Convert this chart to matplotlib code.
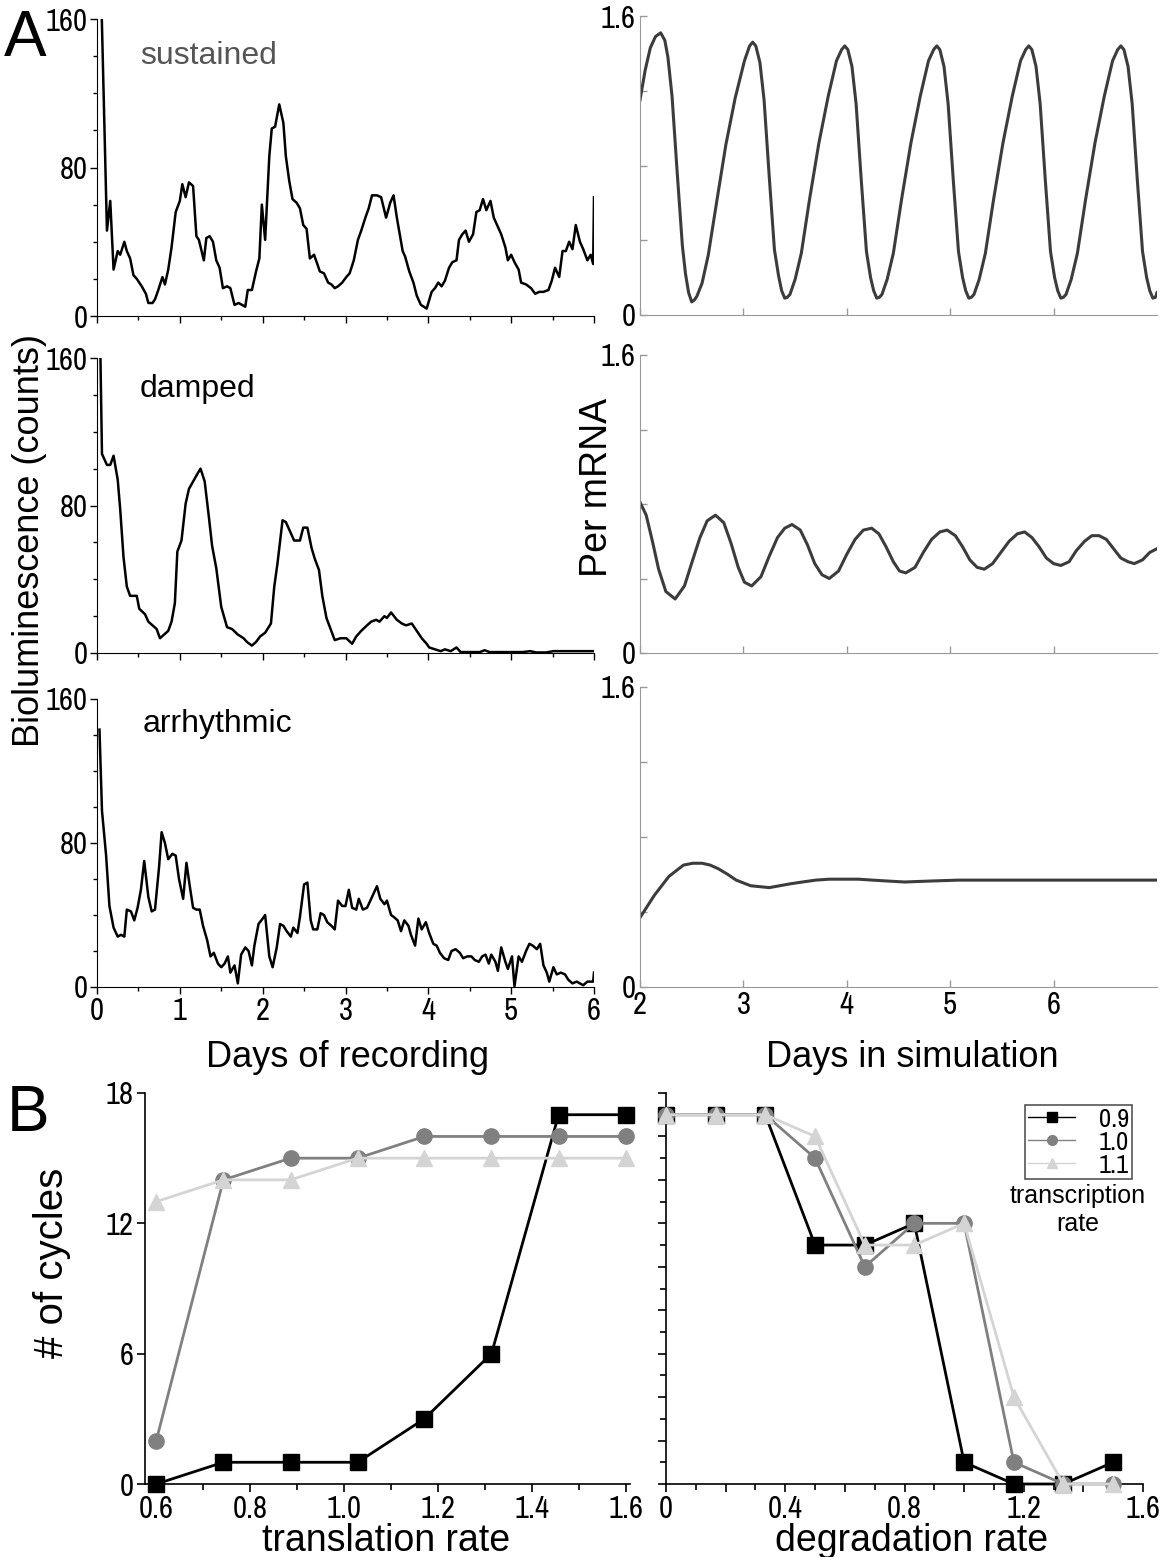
import numpy as np
import matplotlib
matplotlib.use('Agg')
import matplotlib.pyplot as plt
from matplotlib import font_manager
from matplotlib.lines import Line2D

# narrow face for tick labels if one is installed, else the Arial-like face
wide = 'Liberation Sans'
names = sorted(set(f.name for f in font_manager.fontManager.ttflist))
narrow = None
for key in ['Liberation Sans Narrow', 'Narrow', 'Condensed']:
    hits = [n for n in names if key in n]
    if hits:
        narrow = hits[0]
        break
if narrow is None:
    narrow = wide
    tick_a, tick_b, leg_fs = 17, 17.5, 15
else:
    tick_a, tick_b, leg_fs = 22, 22, 19
plt.rcParams['font.family'] = [narrow, 'DejaVu Sans']

W, H = 1160, 1557

# ---- A: bioluminescence recordings (days, counts)
sus_days = [0.05, 0.12, 0.16, 0.20, 0.25, 0.28, 0.33, 0.36, 0.40, 0.44,
            0.48, 0.54, 0.59, 0.62, 0.67, 0.70, 0.74, 0.79, 0.82, 0.86,
            0.90, 0.95, 1.00, 1.03, 1.07, 1.11, 1.16, 1.20, 1.23, 1.29,
            1.32, 1.36, 1.40, 1.44, 1.48, 1.52, 1.57, 1.61, 1.66, 1.71,
            1.75, 1.79, 1.82, 1.87, 1.92, 1.96, 1.99, 2.03, 2.05, 2.08,
            2.11, 2.15, 2.20, 2.25, 2.28, 2.32, 2.36, 2.41, 2.45, 2.49,
            2.53, 2.57, 2.62, 2.66, 2.69, 2.74, 2.79, 2.83, 2.87, 2.91,
            2.96, 3.01, 3.05, 3.10, 3.15, 3.19, 3.24, 3.28, 3.32, 3.38,
            3.43, 3.49, 3.54, 3.58, 3.62, 3.69, 3.72, 3.77, 3.82, 3.86,
            3.91, 3.98, 4.04, 4.08, 4.12, 4.16, 4.20, 4.25, 4.29, 4.34,
            4.37, 4.41, 4.45, 4.49, 4.54, 4.58, 4.62, 4.66, 4.70, 4.75,
            4.79, 4.84, 4.88, 4.93, 4.96, 5.00, 5.04, 5.09, 5.12, 5.18,
            5.24, 5.29, 5.34, 5.39, 5.45, 5.49, 5.53, 5.58, 5.62, 5.66,
            5.70, 5.74, 5.78, 5.83, 5.87, 5.92, 5.96, 5.99, 6.00]
sus_counts = [175, 46, 62, 25, 35, 33, 40, 35, 31, 22,
              20, 16, 12, 7, 7, 9, 14, 21, 17, 25,
              37, 56, 62, 71, 64, 72, 70, 43, 41, 30,
              42, 43, 40, 30, 26, 15, 16, 15, 6, 7,
              6, 5, 14, 14, 24, 31, 60, 41, 59, 86,
              101, 102, 114, 104, 86, 73, 63, 61, 58, 49,
              47, 31, 33, 28, 24, 23, 18, 17, 15, 16,
              18, 21, 23, 30, 41, 46, 53, 58, 65, 65,
              64, 53, 61, 65, 53, 35, 32, 24, 18, 11,
              6, 4, 13, 15, 18, 16, 19, 26, 29, 30,
              41, 44, 46, 40, 44, 56, 57, 63, 57, 62,
              53, 48, 44, 37, 30, 33, 29, 25, 18, 17,
              15, 12, 13, 13, 14, 19, 26, 21, 35, 35,
              40, 36, 49, 40, 36, 30, 33, 28, 64]

dmp_days = [0.04, 0.06, 0.12, 0.16, 0.20, 0.25, 0.28, 0.32, 0.36, 0.40,
            0.48, 0.51, 0.58, 0.62, 0.67, 0.72, 0.76, 0.81, 0.86, 0.90,
            0.94, 0.97, 1.02, 1.07, 1.11, 1.16, 1.21, 1.25, 1.30, 1.35,
            1.39, 1.44, 1.50, 1.57, 1.63, 1.70, 1.77, 1.81, 1.87, 1.92,
            1.97, 2.03, 2.10, 2.14, 2.18, 2.24, 2.28, 2.33, 2.38, 2.45,
            2.49, 2.54, 2.59, 2.63, 2.68, 2.72, 2.77, 2.82, 2.87, 2.94,
            3.01, 3.08, 3.13, 3.19, 3.26, 3.31, 3.37, 3.41, 3.47, 3.50,
            3.55, 3.62, 3.68, 3.73, 3.80, 3.86, 3.92, 3.98, 4.01, 4.08,
            4.15, 4.20, 4.27, 4.34, 4.39, 4.48, 4.62, 4.68, 4.74, 4.86,
            5.00, 5.14, 5.23, 5.30, 5.42, 5.51, 5.65, 5.79, 6.00]
dmp_counts = [165, 108, 102, 102, 107, 94, 78, 52, 36, 31,
              31, 24, 21, 17, 15, 13, 8, 10, 12, 17,
              27, 55, 61, 81, 89, 93, 97, 100, 93, 74,
              58, 46, 25, 14, 13, 10, 8, 6, 4, 6,
              9, 11, 16, 36, 49, 72, 71, 66, 61, 61,
              68, 68, 57, 51, 45, 31, 19, 13, 7, 8,
              8, 5, 9, 12, 15, 17, 18, 17, 20, 19,
              22, 18, 16, 15, 16, 12, 8, 5, 3, 2,
              1, 2, 1, 3, 0.5, 0.5, 0.5, 1.5, 0.5, 0.5,
              0.5, 0.5, 1, 0.3, 0.3, 1, 1, 1, 1]

arr_days = [0.03, 0.06, 0.11, 0.15, 0.20, 0.25, 0.29, 0.33, 0.36, 0.41,
            0.45, 0.49, 0.53, 0.57, 0.62, 0.66, 0.70, 0.75, 0.78, 0.82,
            0.86, 0.91, 0.95, 0.99, 1.04, 1.08, 1.12, 1.16, 1.20, 1.24,
            1.28, 1.33, 1.37, 1.41, 1.46, 1.50, 1.54, 1.58, 1.61, 1.66,
            1.70, 1.74, 1.79, 1.83, 1.87, 1.90, 1.95, 2.00, 2.03, 2.08,
            2.12, 2.17, 2.21, 2.25, 2.29, 2.34, 2.37, 2.42, 2.45, 2.50,
            2.54, 2.58, 2.61, 2.66, 2.70, 2.74, 2.78, 2.83, 2.87, 2.91,
            2.96, 3.00, 3.04, 3.08, 3.13, 3.16, 3.21, 3.26, 3.30, 3.34,
            3.38, 3.42, 3.47, 3.50, 3.55, 3.58, 3.63, 3.67, 3.71, 3.76,
            3.79, 3.84, 3.88, 3.92, 3.97, 4.01, 4.06, 4.10, 4.14, 4.19,
            4.24, 4.28, 4.33, 4.38, 4.42, 4.47, 4.52, 4.56, 4.61, 4.65,
            4.69, 4.73, 4.76, 4.81, 4.84, 4.88, 4.93, 4.96, 5.01, 5.04,
            5.09, 5.13, 5.18, 5.22, 5.26, 5.31, 5.35, 5.39, 5.43, 5.46,
            5.51, 5.55, 5.60, 5.65, 5.69, 5.74, 5.79, 5.83, 5.87, 5.92,
            5.99, 6.00]
arr_counts = [143, 98, 73, 45, 33, 28, 29, 28, 43, 42,
              37, 44, 54, 70, 50, 42, 43, 67, 86, 80,
              71, 74, 73, 60, 49, 69, 56, 44, 43, 43,
              34, 26, 17, 19, 13, 11, 13, 17, 8, 12,
              2, 18, 22, 20, 12, 23, 35, 38, 40, 17,
              11, 22, 35, 34, 31, 28, 33, 30, 39, 57,
              58, 37, 32, 32, 41, 40, 36, 34, 32, 48,
              45, 45, 54, 44, 43, 49, 43, 44, 48, 52,
              56, 49, 46, 48, 40, 39, 37, 31, 37, 34,
              29, 23, 38, 32, 36, 30, 24, 23, 19, 16,
              15, 20, 21, 19, 16, 17, 17, 15, 14, 17,
              18, 13, 18, 14, 9, 22, 14, 10, 17, 0.4,
              17, 14, 20, 24, 23, 21, 24, 12, 8, 3,
              11, 7, 8, 7, 4, 2, 3, 2, 1, 3,
              3, 8]

# ---- A: simulated Per mRNA (days, level)
sim_sus_days = [2.00, 2.05, 2.10, 2.15, 2.20, 2.24, 2.27, 2.31, 2.36, 2.41, 2.44, 2.47, 2.50,
                2.525, 2.55, 2.60, 2.66, 2.74, 2.83, 2.92, 3.01, 3.06, 3.09, 3.12, 3.16, 3.20, 3.25, 3.30, 3.34, 3.37, 3.40,
                3.425, 3.45, 3.50, 3.56, 3.64, 3.73, 3.82, 3.90, 3.95, 3.98, 4.01, 4.05, 4.09, 4.14, 4.19, 4.23, 4.26, 4.29,
                4.315, 4.34, 4.39, 4.45, 4.53, 4.62, 4.71, 4.79, 4.84, 4.87, 4.90, 4.94, 4.98, 5.03, 5.08, 5.12, 5.15, 5.18,
                5.205, 5.23, 5.28, 5.34, 5.42, 5.51, 5.60, 5.68, 5.73, 5.76, 5.79, 5.83, 5.87, 5.92, 5.97, 6.01, 6.04, 6.07,
                6.095, 6.12, 6.17, 6.23, 6.31, 6.40, 6.49, 6.57, 6.62, 6.65, 6.68, 6.72, 6.76, 6.81, 6.86, 6.90, 6.93, 6.96,
                6.985, 7.00]
sim_sus_mrna = [1.15, 1.31, 1.43, 1.49, 1.51, 1.47, 1.38, 1.17, 0.76, 0.37, 0.22, 0.12, 0.07,
                0.08, 0.10, 0.17, 0.32, 0.60, 0.91, 1.16, 1.36, 1.44, 1.46, 1.44, 1.35, 1.15, 0.74, 0.35, 0.21, 0.13, 0.09,
                0.095, 0.11, 0.19, 0.33, 0.62, 0.92, 1.17, 1.36, 1.42, 1.44, 1.42, 1.33, 1.13, 0.72, 0.34, 0.20, 0.13, 0.09,
                0.095, 0.11, 0.19, 0.33, 0.62, 0.92, 1.17, 1.36, 1.42, 1.44, 1.42, 1.33, 1.13, 0.72, 0.34, 0.20, 0.13, 0.09,
                0.095, 0.11, 0.19, 0.33, 0.62, 0.92, 1.17, 1.36, 1.42, 1.44, 1.42, 1.33, 1.13, 0.72, 0.34, 0.20, 0.13, 0.09,
                0.095, 0.11, 0.19, 0.33, 0.62, 0.92, 1.17, 1.36, 1.42, 1.44, 1.42, 1.33, 1.13, 0.72, 0.34, 0.20, 0.13, 0.09,
                0.095, 0.12]

sim_dmp_days = [2.00, 2.06, 2.12, 2.18, 2.25, 2.34, 2.43, 2.51, 2.58, 2.65, 2.73, 2.81, 2.88,
                2.95, 3.01, 3.08, 3.17, 3.25, 3.33, 3.40, 3.47, 3.55, 3.62, 3.69, 3.76, 3.83,
                3.92, 4.00, 4.08, 4.16, 4.24, 4.31, 4.38, 4.45, 4.51, 4.57, 4.66, 4.74, 4.82,
                4.90, 4.97, 5.05, 5.12, 5.19, 5.26, 5.33, 5.41, 5.49, 5.57, 5.65, 5.72, 5.79,
                5.86, 5.93, 6.00, 6.07, 6.15, 6.22, 6.30, 6.37, 6.44, 6.51, 6.58, 6.65, 6.72,
                6.78, 6.86, 6.93, 7.00]
sim_dmp_mrna = [0.81, 0.74, 0.60, 0.45, 0.33, 0.29, 0.36, 0.50, 0.62, 0.71, 0.74, 0.70, 0.59,
                0.46, 0.38, 0.36, 0.41, 0.52, 0.62, 0.67, 0.69, 0.66, 0.58, 0.48, 0.42, 0.40,
                0.44, 0.53, 0.61, 0.66, 0.67, 0.64, 0.57, 0.49, 0.44, 0.43, 0.46, 0.54, 0.61,
                0.65, 0.66, 0.63, 0.57, 0.50, 0.46, 0.45, 0.48, 0.54, 0.60, 0.64, 0.65, 0.62,
                0.57, 0.51, 0.48, 0.47, 0.49, 0.55, 0.60, 0.63, 0.63, 0.61, 0.56, 0.51, 0.49,
                0.48, 0.50, 0.54, 0.56]

sim_arr_days = [2.00, 2.07, 2.14, 2.21, 2.28, 2.35, 2.42, 2.51, 2.60, 2.68, 2.76, 2.85, 2.93,
                3.00, 3.07, 3.16, 3.25, 3.35, 3.45, 3.57, 3.70, 3.83, 3.97, 4.11, 4.25, 4.40,
                4.56, 4.80, 5.08, 5.40, 5.77, 6.40, 7.00]
sim_arr_mrna = [0.37, 0.43, 0.49, 0.54, 0.59, 0.62, 0.65, 0.66, 0.66, 0.65, 0.63, 0.60, 0.57,
                0.555, 0.54, 0.535, 0.53, 0.54, 0.55, 0.56, 0.57, 0.575, 0.575, 0.575, 0.57, 0.565,
                0.56, 0.565, 0.57, 0.57, 0.57, 0.57, 0.57]

# ---- B: number of cycles
trans_rate = [0.6, 0.743, 0.886, 1.029, 1.171, 1.314, 1.457, 1.6]
cyc_trans_09 = [0, 1, 1, 1, 3, 6, 17, 17]
cyc_trans_10 = [2, 14, 15, 15, 16, 16, 16, 16]
cyc_trans_11 = [13, 14, 14, 15, 15, 15, 15, 15]

deg_rate = [0, 0.167, 0.333, 0.5, 0.667, 0.833, 1.0, 1.167, 1.333, 1.5]
cyc_deg_09 = [17, 17, 17, 11, 11, 12, 1, 0, 0, 1]
cyc_deg_10 = [17, 17, 17, 15, 10, 12, 12, 1, 0, 0]
cyc_deg_11 = [17, 17, 17, 16, 11, 11, 12, 4, 0, 0]

tx_labels = ['0.9', '1.0', '1.1']
tx_colors = ['#000000', '#808080', '#d4d4d4']
tx_markers = ['s', 'o', '^']


def box(x0, y0, x1, y1):
    # pixel box (left, top, right, bottom) -> figure fraction rect
    return [x0 / W, 1 - y1 / H, (x1 - x0) / W, (y1 - y0) / H]


def fx(px):
    return px / W


def fy(py):
    return 1 - py / H


fig = plt.figure(figsize=(W / 100, H / 100), dpi=100)

rec_sets = [(sus_days, sus_counts, (19, 316)),
            (dmp_days, dmp_counts, (358, 653)),
            (arr_days, arr_counts, (699, 987))]
sim_sets = [(sim_sus_days, sim_sus_mrna, (16, 315)),
            (sim_dmp_days, sim_dmp_mrna, (355, 653)),
            (sim_arr_days, sim_arr_mrna, (687, 987))]

for i, (d, c, (t, b)) in enumerate(rec_sets):
    ax = fig.add_axes(box(97, t, 594, b))
    ax.plot(d, c, color='black', lw=1.8)
    ax.set_xlim(0, 6)
    ax.set_ylim(0, 160)
    ax.set_xticks(range(7))
    ax.set_xticks(np.arange(0.5, 6, 1), minor=True)
    ax.set_yticks([0, 80, 160])
    ax.set_yticks([20, 40, 60, 100, 120, 140], minor=True)
    ax.tick_params(which='major', direction='out', length=5, width=1, labelsize=tick_a, pad=2)
    ax.tick_params(which='minor', direction='out', length=3, width=1)
    if i < 2:
        ax.set_xticklabels([])
    for s in ['top', 'right']:
        ax.spines[s].set_visible(False)

for i, (d, m, (t, b)) in enumerate(sim_sets):
    ax = fig.add_axes(box(640, t, 1157, b))
    ax.plot(d, m, color='#3c3c3c', lw=2.2)
    ax.set_xlim(2, 7)
    ax.set_ylim(0, 1.6)
    ax.set_xticks([2, 3, 4, 5, 6])
    ax.set_yticks([0, 0.4, 0.8, 1.2, 1.6])
    ax.set_yticklabels(['0', '', '', '', '1.6'])
    ax.tick_params(direction='in', length=5, width=1, color='#999999', labelsize=tick_a, pad=3)
    if i < 2:
        ax.set_xticklabels([])
    for s in ['top', 'right']:
        ax.spines[s].set_visible(False)
    for s in ['left', 'bottom']:
        ax.spines[s].set_color('#999999')

# ---- B panels
axl = fig.add_axes(box(145, 1093, 630, 1484))
axr = fig.add_axes(box(666, 1093, 1143, 1484))
series_l = [cyc_trans_09, cyc_trans_10, cyc_trans_11]
series_r = [cyc_deg_09, cyc_deg_10, cyc_deg_11]
for k in range(3):
    axl.plot(trans_rate, series_l[k], color=tx_colors[k], marker=tx_markers[k],
             ms=11, lw=2, zorder=3 + k, clip_on=False)
    axr.plot(deg_rate, series_r[k], color=tx_colors[k], marker=tx_markers[k],
             ms=11, lw=2, zorder=3 + k, clip_on=False)

axl.set_xlim(0.576, 1.609)
axl.set_ylim(0, 18)
axl.set_xticks([0.6, 0.8, 1.0, 1.2, 1.4, 1.6])
axl.set_xticklabels(['0.6', '0.8', '1.0', '1.2', '1.4', '1.6'])
axl.set_xticks([0.7, 0.9, 1.1, 1.3, 1.5], minor=True)
axl.set_yticks([0, 6, 12, 18])

axr.set_xlim(0, 1.6)
axr.set_ylim(0, 18)
axr.set_xticks(np.round(np.arange(0, 1.61, 0.2), 1))
axr.set_xticklabels(['0', '', '0.4', '', '0.8', '', '1.2', '', '1.6'])
axr.set_xticks(np.round(np.arange(0.1, 1.6, 0.2), 1), minor=True)
axr.set_yticks(range(0, 19, 2))
axr.set_yticks(range(1, 18, 2), minor=True)
axr.set_yticklabels([])

for ax in (axl, axr):
    ax.tick_params(which='major', direction='out', length=6, width=1.2, labelsize=tick_b, pad=2)
    ax.tick_params(which='minor', direction='out', length=4, width=1.2)
    for s in ['top', 'right']:
        ax.spines[s].set_visible(False)
    for s in ['left', 'bottom']:
        ax.spines[s].set_linewidth(1.2)

handles = [Line2D([], [], color=tx_colors[k], marker=tx_markers[k], ms=7, lw=1)
           for k in range(3)]
leg = axr.legend(handles, tx_labels, loc='upper right', bbox_to_anchor=(fx(1132), fy(1105)),
                 bbox_transform=fig.transFigure, frameon=True, fancybox=False,
                 edgecolor='#555555', framealpha=1, fontsize=leg_fs, handlelength=1.8,
                 handletextpad=0.9, borderpad=0.1, labelspacing=0.0, borderaxespad=0)
leg.get_frame().set_linewidth(1.2)
fig.text(fx(1078), fy(1210), 'transcription\nrate', ha='center', va='center',
         fontsize=18, family=wide, linespacing=1.25)

# ---- labels
fig.text(fx(4), fy(56), 'A', fontsize=46, family=wide, va='baseline')
fig.text(fx(7), fy(1131), 'B', fontsize=46, family=wide, va='baseline')
fig.text(fx(140), fy(64), 'sustained', fontsize=23, family=wide, color='#555555', va='baseline')
fig.text(fx(140), fy(397), 'damped', fontsize=23, family=wide, va='baseline')
fig.text(fx(143), fy(732), 'arrhythmic', fontsize=23, family=wide, va='baseline')

fig.text(fx(30), fy(540), 'Bioluminescence (counts)', rotation=90, fontsize=26,
         family=wide, ha='center', va='center')
fig.text(fx(597), fy(487), 'Per mRNA', rotation=90, fontsize=27, family=wide,
         ha='center', va='center')
fig.text(fx(348), fy(1067), 'Days of recording', fontsize=26, family=wide,
         ha='center', va='baseline')
fig.text(fx(912), fy(1067), 'Days in simulation', fontsize=26, family=wide,
         ha='center', va='baseline')
fig.text(fx(52), fy(1263), '# of cycles', rotation=90, fontsize=29, family=wide,
         ha='center', va='center')
fig.text(fx(386), fy(1551), 'translation rate', fontsize=27, family=wide,
         ha='center', va='baseline')
fig.text(fx(912), fy(1551), 'degradation rate', fontsize=27, family=wide,
         ha='center', va='baseline')

fig.savefig('out.png', dpi=100)
